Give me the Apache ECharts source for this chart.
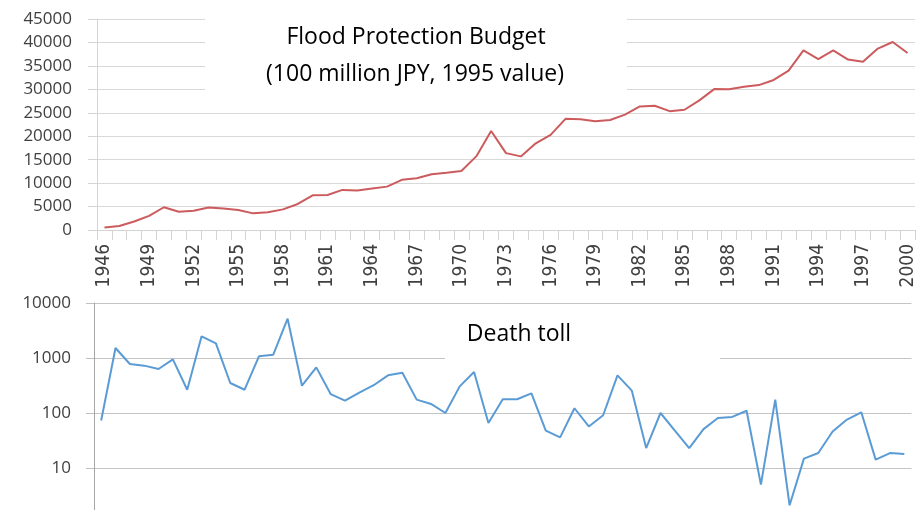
<!DOCTYPE html>
<html>
<head>
<meta charset="utf-8">
<script src="https://cdn.jsdelivr.net/npm/echarts@6/dist/echarts.min.js"></script>
<style>html,body{margin:0;padding:0;background:#fff}#c{width:920px;height:510px}</style>
</head>
<body>
<div id="c"></div>
<script>
// Flood protection budget (100 million JPY, 1995 value), 1946-2000
const budgetYears = ['1946','1947','1948','1949','1950','1951','1952','1953','1954','1955',
  '1956','1957','1958','1959','1960','1961','1962','1963','1964','1965',
  '1966','1967','1968','1969','1970','1971','1972','1973','1974','1975',
  '1976','1977','1978','1979','1980','1981','1982','1983','1984','1985',
  '1986','1987','1988','1989','1990','1991','1992','1993','1994','1995',
  '1996','1997','1998','1999','2000'];
const budgetValues = [550, 850, 1800, 3000, 4850, 3900, 4100, 4800, 4600, 4250,
  3550, 3800, 4400, 5550, 7400, 7450, 8550, 8400, 8850, 9250,
  10700, 11050, 11900, 12200, 12600, 15700, 21100, 16400, 15700, 18500,
  20300, 23700, 23600, 23200, 23450, 24600, 26350, 26500, 25350, 25650,
  27650, 30050, 30000, 30550, 30900, 32000, 34000, 38300, 36450, 38300,
  36350, 35900, 38700, 40100, 37750];

// Death toll (log scale), 57 yearly points
const deathYears = ['1946','1947','1948','1949','1950','1951','1952','1953','1954','1955',
  '1956','1957','1958','1959','1960','1961','1962','1963','1964','1965',
  '1966','1967','1968','1969','1970','1971','1972','1973','1974','1975',
  '1976','1977','1978','1979','1980','1981','1982','1983','1984','1985',
  '1986','1987','1988','1989','1990','1991','1992','1993','1994','1995',
  '1996','1997','1998','1999','2000','2001','2002'];
const deathValues = [73, 1520, 778, 726, 631, 946, 265, 2477, 1850, 351,
  265, 1072, 1148, 5190, 314, 676, 221, 168, 235, 320,
  484, 541, 175, 146, 100, 305, 556, 66, 178, 178,
  228, 48, 36, 122, 57, 91, 484, 255, 23, 100,
  48, 23, 51, 81, 85, 110, 5.0, 175, 2.1, 14.8,
  18.7, 46, 76, 103, 14.2, 18.7, 18];

const budgetTicks = [0, 45000, 5000];   // min, max, step
const deathTicks = [1, 10000];          // log range

const titleLines = ['Flood Protection Budget', '(100 million JPY, 1995 value)'];
const deathTitle = 'Death toll';

const labelFont = '"Open Sans", sans-serif';
const chart = echarts.init(document.getElementById('c'), null, {renderer: 'canvas'});

const option = {
  animation: false,
  backgroundColor: '#ffffff',
  grid: [
    {left: 97, top: 19, width: 818, height: 211, outerBoundsMode: 'none', containLabel: false},
    {left: 94, top: 303, width: 817.5, height: 220, outerBoundsMode: 'none', containLabel: false}
  ],
  xAxis: [
    {
      gridIndex: 0, type: 'category', data: budgetYears, boundaryGap: true,
      axisLine: {show: true, lineStyle: {color: '#d4d4d4', width: 1}},
      axisTick: {show: true, interval: 0, length: 10, lineStyle: {color: '#d4d4d4'}},
      axisLabel: {interval: 2, rotate: 90, margin: 14, color: '#404040',
        fontFamily: '"Liberation Sans Narrow", "DejaVu Sans Condensed", sans-serif', fontSize: 19},
      splitLine: {show: false}
    },
    {
      gridIndex: 1, type: 'category', data: deathYears, boundaryGap: true,
      axisLine: {show: false}, axisTick: {show: false}, axisLabel: {show: false},
      splitLine: {show: false}
    }
  ],
  yAxis: [
    {
      gridIndex: 0, type: 'value', min: budgetTicks[0], max: budgetTicks[1], interval: budgetTicks[2],
      axisLine: {show: true, lineStyle: {color: '#d4d4d4'}},
      axisTick: {show: true, length: 9, lineStyle: {color: '#d4d4d4'}},
      splitLine: {show: true, lineStyle: {color: '#d9d9d9', width: 1}},
      axisLabel: {margin: 25, color: '#404040', fontFamily: labelFont, fontSize: 17,
        formatter: v => String(v)}
    },
    {
      gridIndex: 1, type: 'log', logBase: 10, min: deathTicks[0], max: deathTicks[1],
      axisLine: {show: true, lineStyle: {color: '#a6a6a6'}},
      axisTick: {show: true, length: 8, lineStyle: {color: '#bfbfbf'}},
      splitLine: {show: true, lineStyle: {color: '#c4c4c4', width: 1}},
      axisLabel: {margin: 23, color: '#404040', fontFamily: labelFont, fontSize: 17,
        formatter: v => String(v)}
    }
  ],
  graphic: [
    {type: 'rect', z: 1, shape: {x: 205, y: 0, width: 422, height: 100}, style: {fill: '#ffffff'}},
    {type: 'rect', z: 1, shape: {x: 445, y: 312, width: 275, height: 50}, style: {fill: '#ffffff'}},
    {type: 'text', z: 5, x: 416, y: 37, style: {text: titleLines[0], font: '23px "Open Sans"', fill: '#000',
      align: 'center', verticalAlign: 'middle', textAlign: 'center', textVerticalAlign: 'middle'}},
    {type: 'text', z: 5, x: 415, y: 74, style: {text: titleLines[1], font: '23px "Open Sans"', fill: '#000',
      align: 'center', verticalAlign: 'middle', textAlign: 'center', textVerticalAlign: 'middle'}},
    {type: 'text', z: 5, x: 519, y: 334, style: {text: deathTitle, font: '23px "Open Sans"', fill: '#000',
      align: 'center', verticalAlign: 'middle', textAlign: 'center', textVerticalAlign: 'middle'}}
  ],
  series: [
    {
      type: 'line', xAxisIndex: 0, yAxisIndex: 0, data: budgetValues, z: 3,
      showSymbol: false, symbol: 'none', smooth: false,
      lineStyle: {color: '#cc5b5e', width: 2}
    },
    {
      type: 'line', xAxisIndex: 1, yAxisIndex: 1, data: deathValues, z: 3,
      showSymbol: false, symbol: 'none', smooth: false,
      lineStyle: {color: '#5b9bd5', width: 2}
    }
  ]
};
chart.setOption(option);
</script>
</body>
</html>
